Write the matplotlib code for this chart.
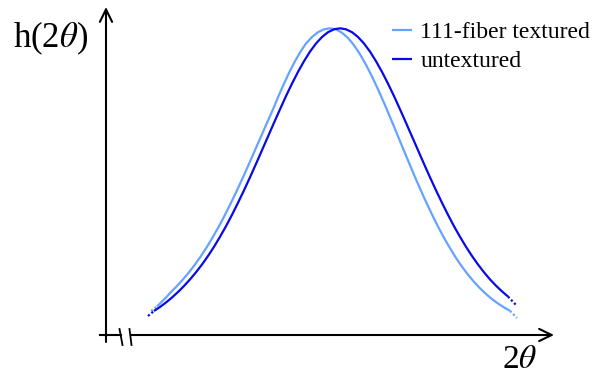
import matplotlib
matplotlib.use('Agg')
import matplotlib.pyplot as plt

# profile points (arbitrary 2theta / intensity units)
tex_x = [51, 60, 65, 71, 77, 83, 89, 95, 101, 107, 113, 119, 125, 131, 137, 143, 149, 155,
         161, 167, 172.5, 178, 183.5, 189, 194.5, 200, 206, 212, 218, 224, 230, 236, 242,
         248, 254, 260, 266, 272, 278, 284, 290, 296, 302, 308, 314, 320, 326, 332, 338,
         344, 350, 356, 362, 368, 374, 380, 386, 392, 398, 404]
tex_y = [28.5, 37.5, 43.0, 49.0, 55.6, 62.7, 70.5, 79.0, 88.2, 98.2, 108.8, 120.2, 132.2,
         144.7, 157.7, 171.1, 184.8, 198.5, 212.2, 225.7, 238.9, 251.4, 263.1, 273.8, 283.4,
         291.5, 298.0, 302.8, 305.7, 306.7, 305.6, 302.3, 297.0, 289.8, 280.8, 270.3, 258.5,
         245.7, 232.2, 218.0, 203.6, 189.0, 174.6, 160.3, 146.5, 133.2, 120.5, 108.5, 97.2,
         86.8, 77.1, 68.3, 60.3, 53.2, 46.7, 41.0, 35.9, 31.5, 27.6, 24.2]
untex_x = [48, 54, 60, 66, 72, 78, 84, 90, 96, 102, 108, 114, 120, 126, 132, 138, 144, 150,
           156, 162, 168, 174, 180, 186, 192, 198, 204, 210, 216, 222, 228, 234, 240, 246,
           252, 258, 264, 270, 276, 282, 288, 294, 300, 306, 312, 318, 324, 330, 336, 342,
           348, 354, 360, 366, 372, 378, 384, 390, 396, 402]
untex_y = [24.0, 28.0, 32.5, 37.5, 43.0, 49.0, 55.6, 62.7, 70.5, 79.0, 88.2, 98.2, 108.8,
           120.2, 132.2, 144.7, 157.7, 171.1, 184.8, 198.5, 212.2, 225.7, 238.9, 251.4, 263.1,
           273.8, 283.4, 291.5, 298.0, 302.8, 305.7, 306.7, 305.7, 302.8, 298.0, 291.5, 283.4,
           273.8, 263.1, 251.4, 238.9, 225.7, 212.2, 198.5, 184.8, 171.1, 157.7, 144.7, 132.2,
           120.2, 108.8, 98.2, 88.2, 79.0, 70.5, 62.7, 55.6, 49.3, 43.6, 38.5]

# dotted tails at both ends
tex_tail_l_x, tex_tail_l_y = [45, 51], [24, 28.5]
tex_tail_r_x, tex_tail_r_y = [404, 411], [24.2, 17]
untex_tail_l_x, untex_tail_l_y = [42, 48], [19, 24]
untex_tail_r_x, untex_tail_r_y = [402, 410], [38.5, 30]

labels = ['111-fiber textured', 'untextured']
c_tex = '#66a3ff'
c_untex = '#0a0ae6'

plt.rcParams['font.family'] = ['Liberation Serif', 'DejaVu Serif']
plt.rcParams['mathtext.fontset'] = 'stix'

fig = plt.figure(figsize=(6.03, 3.76), dpi=100)
ax = fig.add_axes([0, 0, 1, 1])
ax.set_xlim(-106, 497)
ax.set_ylim(-41, 335)
ax.axis('off')

dots = (0, (1, 1))
ax.plot(tex_x, tex_y, color=c_tex, lw=1.6, label=labels[0], solid_capstyle='butt')
ax.plot(tex_tail_l_x, tex_tail_l_y, color=c_tex, lw=1.6, ls=dots)
ax.plot(tex_tail_r_x, tex_tail_r_y, color=c_tex, lw=1.6, ls=dots)
ax.plot(untex_x, untex_y, color=c_untex, lw=1.6, label=labels[1], solid_capstyle='butt')
ax.plot(untex_tail_l_x, untex_tail_l_y, color=c_untex, lw=1.6, ls=dots)
ax.plot(untex_tail_r_x, untex_tail_r_y, color=c_untex, lw=1.6, ls=dots)

# axes with arrows and a break on the 2theta axis
arrow = dict(arrowstyle='->,head_length=0.45,head_width=0.22', lw=1.5,
             color='black', mutation_scale=20, shrinkA=0, shrinkB=0)
ax.annotate('', xy=(0, 328), xytext=(0, -7), arrowprops=arrow)
ax.annotate('', xy=(448, 0), xytext=(25, 0), arrowprops=arrow)
ax.plot([-6, 15], [0, 0], color='black', lw=1.5)
ax.plot([13.5, 16.5], [6, -10], color='black', lw=1.3)
ax.plot([23.5, 25.5], [6, -10], color='black', lw=1.3)

ax.text(-93, 288, r'h(2$\theta$)', fontsize=25, ha='left', va='baseline')
ax.text(396, -33, r'2$\theta$', fontsize=24, ha='left', va='baseline')

ax.legend(loc='upper left', bbox_to_anchor=(0.650, 0.942), bbox_transform=fig.transFigure,
          frameon=False, fontsize=17, handlelength=0.85, handletextpad=0.35,
          labelspacing=0.32, borderpad=0, borderaxespad=0)

fig.savefig('out.png', dpi=100)
